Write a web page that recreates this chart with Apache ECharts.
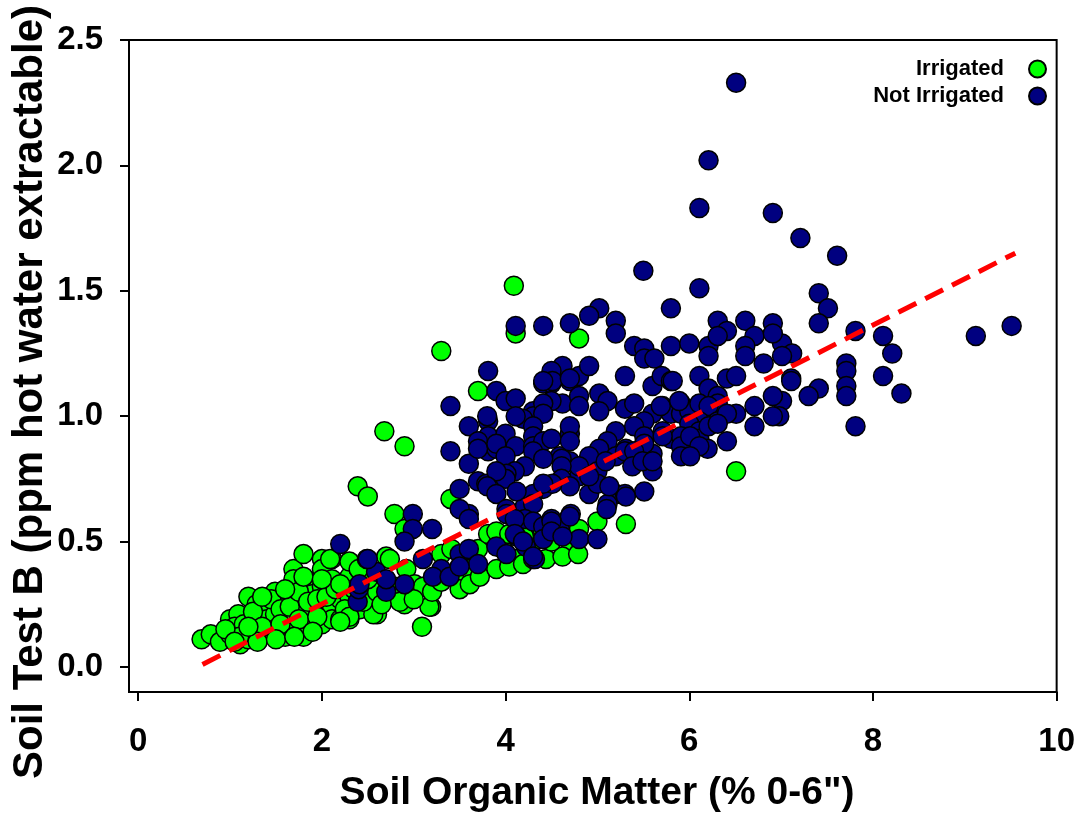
<!DOCTYPE html>
<html>
<head>
<meta charset="utf-8">
<script src="https://cdn.jsdelivr.net/npm/echarts@6/dist/echarts.min.js"></script>
<style>
  html, body { margin: 0; padding: 0; background: #fff; }
  #chart { width: 1078px; height: 814px; }
</style>
</head>
<body>
<div id="chart"></div>
<script>
// tick labels
var xTicks = [0, 2, 4, 6, 8, 10];
var yTicks = [0, 0.5, 1.0, 1.5, 2.0, 2.5];

// Irrigated sites [organic matter %, B ppm]
var irrigated = [
  [4.09,1.52],[4.11,1.33],[4.80,1.31],[3.30,1.26],[3.70,1.10],[2.68,0.94],[2.90,0.88],[2.39,0.72],[2.50,0.68],
  [2.79,0.61],[2.90,0.55],[3.40,0.67],[6.51,0.78],[5.00,0.58],[5.31,0.57],[3.19,0.24],[3.09,0.16],[2.70,0.44],
  [2.90,0.25],[2.60,0.21],
  [0.69,0.11],[0.79,0.13],[0.89,0.10],[1.00,0.19],[1.09,0.21],[1.00,0.13],[1.11,0.09],[1.20,0.11],[1.20,0.28],
  [1.29,0.25],[1.29,0.19],[1.29,0.13],[1.40,0.24],[1.40,0.19],[1.40,0.13],[1.49,0.30],[1.49,0.21],[1.49,0.15],
  [1.60,0.27],[1.60,0.20],[1.60,0.12],[1.69,0.39],[1.69,0.35],[1.69,0.28],[1.69,0.21],[1.69,0.15],[1.80,0.45],
  [1.80,0.23],[1.80,0.17],[1.80,0.12],[1.89,0.34],[1.89,0.29],[1.89,0.21],[1.91,0.16],[2.00,0.43],[2.00,0.39],
  [2.00,0.32],[2.00,0.24],[2.00,0.17],[2.11,0.43],[2.11,0.35],[2.11,0.24],[2.11,0.19],[2.20,0.19],[2.20,0.27],
  [2.30,0.36],[2.30,0.28],[2.30,0.19],[2.41,0.23],[2.52,0.29],[2.56,0.21],
  [1.05,0.16],[1.15,0.17],[1.25,0.22],[1.35,0.16],[1.45,0.27],[1.55,0.23],[1.55,0.17],[1.65,0.24],[1.75,0.30],
  [1.75,0.19],[1.85,0.26],[1.95,0.27],[1.95,0.20],[2.05,0.28],[2.15,0.31],[2.25,0.23],[2.35,0.31],[2.45,0.33],
  [2.45,0.26],[1.10,0.12],[1.30,0.10],[1.50,0.11],[1.70,0.12],[1.90,0.14],[1.20,0.16],[1.60,0.31],[1.80,0.36],
  [2.00,0.35],[2.20,0.33],[2.40,0.39],[2.30,0.42],[1.35,0.28],[0.95,0.15],[1.05,0.10],
  [2.74,0.43],[2.92,0.39],[3.01,0.33],[3.10,0.32],[3.30,0.45],[3.41,0.47],[3.50,0.35],[3.61,0.39],[3.70,0.47],
  [3.81,0.53],[3.90,0.54],[3.97,0.47],[4.12,0.43],[4.04,0.53],[4.62,0.53],[4.70,0.50],[4.80,0.55],[3.17,0.24],
  [2.30,0.20],[2.20,0.18],[3.50,0.31],[3.61,0.33],[3.72,0.36],[3.90,0.39],[4.04,0.40],[4.19,0.41],[4.30,0.43],
  [4.44,0.43],[4.62,0.44],[4.79,0.45],[4.30,0.50],[4.50,0.50],[4.20,0.52],[4.40,0.55],[2.09,0.43],
  [2.60,0.30],[2.80,0.32],[2.85,0.26],[3.00,0.27],[3.20,0.30],[3.30,0.34],[2.65,0.25],[2.50,0.35],[2.40,0.39]
];

// Not irrigated sites [organic matter %, B ppm]
var notIrrigated = [
  [6.51,2.33],[6.21,2.02],[6.11,1.83],[6.91,1.81],[7.21,1.71],[7.61,1.64],[5.50,1.58],[6.11,1.51],[7.41,1.49],
  [7.51,1.43],[5.80,1.43],[5.02,1.43],[4.91,1.40],[4.70,1.37],[4.41,1.36],[4.11,1.36],[5.20,1.38],[5.20,1.33],
  [7.41,1.37],[7.81,1.34],[8.11,1.32],[8.21,1.25],[9.12,1.32],[9.51,1.36],[7.01,1.29],[7.12,1.25],[7.01,1.24],
  [7.11,1.15],[7.11,1.14],[7.71,1.21],[7.71,1.18],[7.71,1.12],[7.71,1.08],[8.11,1.16],[8.31,1.09],[7.41,1.11],
  [7.30,1.08],[7.01,1.06],[7.81,0.96],[6.98,1.00],
  [5.40,1.28],[5.51,1.27],[5.51,1.23],[5.62,1.23],[5.80,1.28],[6.00,1.29],[6.21,1.28],[6.21,1.24],[6.31,1.38],
  [6.41,1.34],[6.31,1.32],[6.61,1.38],[6.71,1.32],[6.61,1.28],[6.61,1.24],[6.91,1.37],[6.91,1.33],[6.81,1.21],
  [5.30,1.16],[5.60,1.12],[5.70,1.16],[5.80,1.14],[6.11,1.16],[6.21,1.11],[6.41,1.15],[6.51,1.16],[6.31,1.08],
  [6.31,1.05],[6.51,1.01],[6.71,1.04],[6.71,0.96],[6.91,1.08],[6.91,1.00],
  [5.02,1.09],[5.11,1.06],[5.02,1.02],[5.30,1.03],[5.40,1.05],[5.60,1.01],[5.71,1.04],[5.80,1.01],[5.91,1.05],
  [5.91,1.01],[6.00,1.02],[6.11,1.05],[6.21,1.04],[6.11,0.98],[6.31,0.98],[6.41,1.01],
  [4.62,1.20],[4.70,1.14],[4.80,1.16],[4.91,1.20],[4.41,1.13],[4.50,1.18],[4.50,1.13],[4.62,1.05],[4.80,1.08],
  [4.80,1.04],[4.50,1.06],[5.51,0.98],
  [5.20,0.94],[5.40,0.96],[5.51,0.92],[5.71,0.94],[5.80,0.91],[6.00,0.97],[6.11,0.94],[6.11,0.91],[6.21,0.96],
  [6.31,0.97],[6.41,0.90],[5.11,0.90],[5.31,0.87],[5.60,0.85],[5.91,0.92],[6.00,0.85],[6.20,0.87],[5.02,0.87],
  [5.20,0.84],[4.70,0.93],[4.70,0.96],[4.91,0.84],[5.00,0.78],[5.30,0.86],[5.51,0.89],[5.40,0.86],[5.60,0.78],
  [5.71,0.92],[5.91,0.88],[6.01,0.92],[6.11,0.88],[5.91,0.84],[6.01,0.84],
  [4.70,0.73],[4.80,0.76],[4.91,0.69],[5.00,0.73],[5.20,0.69],[5.30,0.69],[5.51,0.70],[5.11,0.65],[4.59,0.84],
  [4.70,0.82],[4.80,0.80],
  [5.13,0.72],[5.38,0.80],[5.49,0.82],[5.60,0.82],[5.09,0.82],[5.69,1.04],[5.89,1.06],[5.82,1.14],[4.51,1.14],
  [4.41,1.14],[4.70,1.15],
  [3.81,1.18],[3.90,1.10],[4.00,1.06],[4.11,1.07],[3.40,1.04],[3.60,0.96],[3.81,0.98],[4.30,1.02],[4.30,1.00],
  [4.19,0.99],[4.41,1.05],[4.41,1.01],[4.11,1.00],
  [3.40,0.86],[3.60,0.81],[3.81,0.92],[3.81,0.86],[3.90,0.87],[4.00,0.93],[4.11,0.88],[3.70,0.90],[3.70,0.87],
  [3.90,0.89],[3.80,1.00],[4.30,0.96],[4.30,0.92],[4.30,0.88],[4.41,0.90],[4.50,0.91],[4.61,0.83],[4.70,0.90],
  [4.30,0.86],[4.41,0.83],[4.61,0.80],[4.00,0.84],[4.21,0.80],[4.91,0.76],
  [4.10,0.78],[3.70,0.74],[3.79,0.73],[3.50,0.71],[4.01,0.77],[4.41,0.71],[4.61,0.75],[4.70,0.72],[4.00,0.75],
  [3.90,0.78],[3.80,0.72],[3.90,0.69],[4.21,0.64],[4.30,0.69],[4.30,0.65],[3.60,0.61],[4.01,0.63],[4.12,0.70],
  [4.51,0.73],[4.41,0.73],
  [3.50,0.63],[3.60,0.59],[4.01,0.61],[4.21,0.59],[4.71,0.61],[4.80,0.51],[5.00,0.51],[4.10,0.59],[4.30,0.58],
  [4.41,0.56],[4.50,0.59],[4.59,0.55],[4.70,0.60],[5.10,0.63],[5.31,0.68],[4.50,0.58],
  [3.10,0.43],[3.30,0.39],[3.50,0.45],[3.60,0.47],[3.70,0.41],[3.90,0.48],[4.01,0.45],[4.12,0.52],[4.22,0.48],
  [4.32,0.43],[4.41,0.51],[4.50,0.54],[4.62,0.52],[4.10,0.53],[4.19,0.50],[4.30,0.44],
  [2.49,0.43],[2.59,0.38],[2.70,0.30],[2.90,0.33],[3.21,0.36],[3.39,0.36],[3.50,0.40],[2.39,0.26],[2.40,0.31],
  [2.70,0.35],[2.20,0.49],[2.50,0.43],[2.41,0.33],[2.99,0.61],[2.99,0.55],[2.90,0.50],[3.20,0.55]
];

// regression line end points
var trendLine = [[0.70, 0.01], [9.55, 1.65]];

var myChart = echarts.init(document.getElementById('chart'));

var labelFont = {
  color: '#000',
  fontFamily: 'Liberation Sans, Arial, sans-serif',
  fontWeight: 'bold'
};

var option = {
  animation: false,
  backgroundColor: '#fff',
  grid: {
    left: 129, right: 20, top: 40, bottom: 122,
    show: true,
    borderColor: '#000',
    borderWidth: 2,
    backgroundColor: 'transparent'
  },
  legend: {
    data: ['Irrigated', 'Not Irrigated'],
    orient: 'vertical',
    align: 'right',
    right: 26,
    top: 53,
    itemWidth: 17,
    itemHeight: 17,
    itemGap: 5,
    textStyle: Object.assign({ fontSize: 22, lineHeight: 17, padding: [0, 20, 0, 0] }, labelFont)
  },
  xAxis: {
    type: 'value',
    min: -0.1,
    max: 10,
    splitLine: { show: false },
    axisLine: { onZero: false, lineStyle: { color: '#000', width: 2 } },
    axisTick: { customValues: xTicks, length: 9, lineStyle: { color: '#000', width: 2 } },
    axisLabel: Object.assign({ customValues: xTicks, fontSize: 33, margin: 33 }, labelFont)
  },
  yAxis: {
    type: 'value',
    min: -0.1,
    max: 2.5,
    splitLine: { show: false },
    axisLine: { onZero: false, lineStyle: { color: '#000', width: 2 } },
    axisTick: { customValues: yTicks, length: 9, lineStyle: { color: '#000', width: 2 } },
    axisLabel: Object.assign({
      customValues: yTicks, fontSize: 33, margin: 26,
      formatter: function (v) { return v.toFixed(1); }
    }, labelFont)
  },
  graphic: [
    {
      type: 'text', x: 597, y: 793,
      style: {
        text: 'Soil Organic Matter (% 0-6")',
        fontSize: 39, fontWeight: 'bold', fontFamily: 'Liberation Sans, Arial, sans-serif',
        fill: '#000', align: 'center', verticalAlign: 'middle'
      }
    },
    {
      type: 'text', x: 30, y: 392, rotation: Math.PI / 2,
      style: {
        text: 'Soil Test B (ppm hot water extractable)',
        fontSize: 42, fontWeight: 'bold', fontFamily: 'Liberation Sans, Arial, sans-serif',
        fill: '#000', align: 'center', verticalAlign: 'middle'
      }
    }
  ],
  series: [
    {
      name: 'Irrigated',
      type: 'scatter',
      data: irrigated,
      symbol: 'circle',
      symbolSize: 19,
      itemStyle: { color: '#00ff00', borderColor: '#000', borderWidth: 1.5, opacity: 1 },
      z: 2
    },
    {
      name: 'Not Irrigated',
      type: 'scatter',
      data: notIrrigated,
      symbol: 'circle',
      symbolSize: 19,
      itemStyle: { color: '#000080', borderColor: '#000', borderWidth: 1.5, opacity: 1 },
      z: 3
    },
    {
      type: 'line',
      data: trendLine,
      symbol: 'none',
      silent: true,
      lineStyle: { color: '#ff0000', width: 5, type: [20, 10] },
      z: 4
    }
  ]
};

myChart.setOption(option);
</script>
</body>
</html>
